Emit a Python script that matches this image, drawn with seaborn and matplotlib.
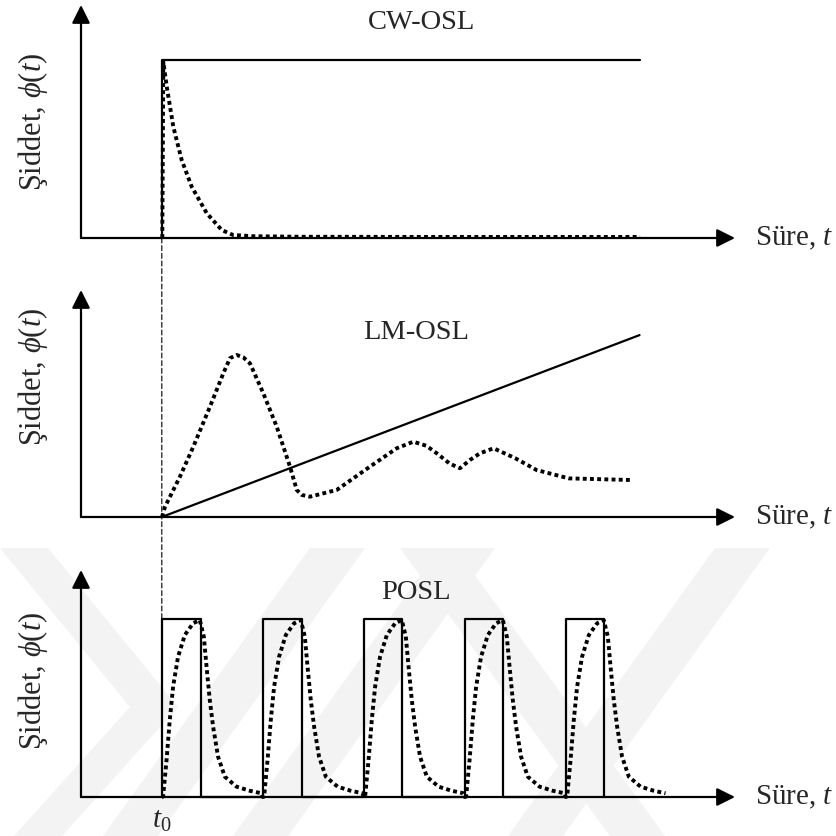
import numpy as np
import pandas as pd
import matplotlib
matplotlib.use("Agg")
import matplotlib.pyplot as plt
import seaborn as sns
from matplotlib.patches import ConnectionPatch, Polygon

# ---------------- data ----------------
t0 = 0.8
t_max = 6.475

# CW-OSL: constant stimulation, decaying luminescence
cw_stim_t = [0.80, 0.80, 5.53]
cw_stim_i = [0.00, 1.00, 1.00]
cw_lum_t = [0.805, 0.815, 0.849, 0.914, 0.997, 1.096, 1.245, 1.393, 1.505, 1.70, 2.168, 3.50, 5.535]
cw_lum_i = [0.000, 0.990, 0.850, 0.625, 0.438, 0.288, 0.139, 0.045, 0.017, 0.010, 0.007, 0.006, 0.006]

# LM-OSL: linearly ramped stimulation, peaked luminescence
lm_stim_t = [0.80, 5.53]
lm_stim_i = [0.00, 1.022]
lm_lum_t = [0.802, 0.832, 0.980, 1.112, 1.277, 1.409, 1.475, 1.542, 1.607, 1.673, 1.805, 1.938,
            2.069, 2.136, 2.185, 2.267, 2.532, 2.861, 3.126, 3.290, 3.420, 3.522, 3.650, 3.752,
            3.850, 3.950, 4.085, 4.300, 4.510, 4.829, 5.436]
lm_lum_i = [0.000, 0.058, 0.227, 0.395, 0.620, 0.807, 0.892, 0.910, 0.897, 0.863, 0.695, 0.507,
            0.283, 0.152, 0.124, 0.114, 0.152, 0.283, 0.386, 0.423, 0.400, 0.358, 0.300, 0.274,
            0.320, 0.358, 0.386, 0.330, 0.264, 0.217, 0.208]

# POSL: pulsed stimulation, luminescence response of each pulse
pulse_on = [0.80, 1.80, 2.80, 3.80, 4.80]
pulse_off = [1.188, 2.188, 3.178, 4.178, 5.178]
pulse_level = 1.0
pulse_dt = [0.000, 0.013, 0.047, 0.079, 0.112, 0.161, 0.228, 0.310, 0.376,
            0.416, 0.443, 0.475, 0.508, 0.557, 0.624, 0.740, 0.871, 0.987]
pulse_lum = [0.000, 0.002, 0.208, 0.433, 0.620, 0.788, 0.910, 0.976, 0.994,
             0.901, 0.732, 0.545, 0.395, 0.226, 0.114, 0.058, 0.035, 0.021]

titles = ["CW-OSL", "LM-OSL", "POSL"]
ylabel = "Şiddet, $\\phi(t)$"
xlabel = "Süre, $t$"
t0_label = "$t_{\\mathit{0}}$"

# ---------------- style ----------------
sns.set_theme(style="white")
plt.rcParams["font.family"] = ["Liberation Serif", "DejaVu Serif"]
plt.rcParams["mathtext.fontset"] = "custom"
plt.rcParams["mathtext.rm"] = "Liberation Serif"
plt.rcParams["mathtext.it"] = "Liberation Serif:italic"
plt.rcParams["mathtext.bf"] = "Liberation Serif:bold"

W, H = 837, 836
fig = plt.figure(figsize=(W / 100, H / 100), dpi=100, facecolor="white")

# faint background watermark
ax_bg = fig.add_axes([0, 0, 1, 1], zorder=-5)
ax_bg.set_xlim(0, W)
ax_bg.set_ylim(H, 0)
ax_bg.axis("off")
wm = "#f3f3f3"
ax_bg.add_patch(Polygon([(0, 548), (48, 548), (178, 707), (62, 836), (14, 836), (130, 707)],
                        closed=True, color=wm, lw=0))
for x0 in [310, 440, 715]:
    ax_bg.add_patch(Polygon([(x0, 548), (x0 + 55, 548), (x0 + 55 - 207, 836), (x0 - 207, 836)],
                            closed=True, color=wm, lw=0))
ax_bg.add_patch(Polygon([(400, 548), (455, 548), (665, 836), (610, 836)], closed=True, color=wm, lw=0))

left = 81 / W
width = 654 / W
px_per_unit_y = 178.0
panels = [(238, 233), (517, 227), (797, 227)]
axes = []
for base, h in panels:
    ax = fig.add_axes([left, (H - base) / H, width, h / H])
    ax.set_xlim(0, t_max)
    ax.set_ylim(0, h / px_per_unit_y)
    ax.patch.set_alpha(0)
    axes.append(ax)

solid_kw = dict(color="black", lw=1.6, sort=False, estimator=None, clip_on=False)
dot_kw = dict(color="black", lw=2.8, sort=False, estimator=None, clip_on=False,
              linestyle=(0, (1, 0.85)), dash_capstyle="butt")

# Panel 1: CW-OSL
ax = axes[0]
sns.lineplot(data=pd.DataFrame({"t": cw_stim_t, "i": cw_stim_i}), x="t", y="i", ax=ax, **solid_kw)
sns.lineplot(data=pd.DataFrame({"t": cw_lum_t, "i": cw_lum_i}), x="t", y="i", ax=ax, **dot_kw)

# Panel 2: LM-OSL
ax = axes[1]
sns.lineplot(data=pd.DataFrame({"t": lm_stim_t, "i": lm_stim_i}), x="t", y="i", ax=ax, **solid_kw)
sns.lineplot(data=pd.DataFrame({"t": lm_lum_t, "i": lm_lum_i}), x="t", y="i", ax=ax, **dot_kw)

# Panel 3: POSL
ax = axes[2]
step_t, step_i = [], []
for on, off in zip(pulse_on, pulse_off):
    step_t += [on, on, off, off]
    step_i += [0, pulse_level, pulse_level, 0]
sns.lineplot(data=pd.DataFrame({"t": step_t, "i": step_i}), x="t", y="i", ax=ax, **solid_kw)
lum_t, lum_i = [], []
for on in pulse_on:
    lum_t += [on + d for d in pulse_dt]
    lum_i += list(pulse_lum)
sns.lineplot(data=pd.DataFrame({"t": lum_t, "i": lum_i}), x="t", y="i", ax=ax, **dot_kw)

# axes arrows, labels, titles
arrow_kw = dict(arrowstyle="-|>,head_length=1.1,head_width=0.55", lw=1.6, color="black",
                mutation_scale=10, shrinkA=0, shrinkB=0)
title_pos = [(0.520, 0.927), (0.512, 0.811), (0.512, 0.903)]
ylabel_pos = [0.498, 0.617, 0.511]
for ax, title, tp, yl in zip(axes, titles, title_pos, ylabel_pos):
    ax.annotate("", xy=(1, 0), xytext=(0, 0), xycoords="axes fraction",
                textcoords="axes fraction", arrowprops=arrow_kw)
    ax.annotate("", xy=(0, 1), xytext=(0, 0), xycoords="axes fraction",
                textcoords="axes fraction", arrowprops=arrow_kw)
    ax.text(tp[0], tp[1], title, transform=ax.transAxes, ha="center", va="center", fontsize=20.5)
    ax.text(1.031, 0.0, xlabel, transform=ax.transAxes, ha="left", va="center", fontsize=21)
    ax.text(-0.073, yl, ylabel, transform=ax.transAxes, ha="center", va="center",
            rotation=90, fontsize=22)
    ax.set_xlabel("")
    ax.set_ylabel("")
    ax.axis("off")

axes[2].text(t0, -0.135, t0_label, ha="center", va="center", fontsize=21)

# dashed guide at t0 from the top panel down to the first pulse
con = ConnectionPatch(xyA=(t0, 0), coordsA=axes[0].transData,
                      xyB=(t0, pulse_level), coordsB=axes[2].transData,
                      color="black", lw=0.8, linestyle=(0, (4.5, 2.4)))
fig.add_artist(con)

fig.savefig("out.png", dpi=100, facecolor="white")
